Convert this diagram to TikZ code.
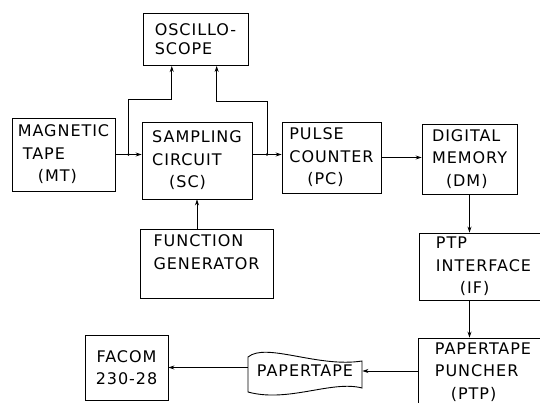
\documentclass[tikz,border=0pt]{standalone}
\usepackage{fontspec}
\setmainfont{DejaVu Sans}[LetterSpace=6.0]
\usepackage{tikz}
\usetikzlibrary{arrows.meta}
\usetikzlibrary{calc}
\tikzset{
  blk/.style={draw, line width=0.9pt, inner sep=0pt, align=left,
              font=\fontsize{16}{22.5}\selectfont},
  arr/.style={-{Stealth[length=6pt,width=4pt]}, line width=0.8pt},
}

\begin{document}
\begin{tikzpicture}[x=1pt,y=-1pt]
\useasboundingbox (0,0) rectangle (540,403);
\clip (0,0) rectangle (540,403);

% blocks
\node[blk, minimum width=105pt, minimum height=52pt,
      font=\fontsize{16}{19}\selectfont] (osc) at (195.5,39.5) {OSCILLO-\\SCOPE};
\node[blk, minimum width=103pt, minimum height=73pt] (mt) at (63.5,154.5)
      {MAGNETIC\\\hspace{5pt}TAPE\\\hspace{20pt}(MT)};
\node[blk, minimum width=110pt, minimum height=77pt] (sc) at (197,160.5)
      {SAMPLING\\CIRCUIT\\\hspace{17pt}(SC)};
\node[blk, minimum width=99pt, minimum height=71pt] (pc) at (331.5,157.5)
      {PULSE\\COUNTER\\\hspace{18pt}(PC)};
\node[blk, minimum width=95pt, minimum height=70pt] (dm) at (469.5,159)
      {DIGITAL\\MEMORY\\\hspace{14pt}(DM)};
\node[blk, minimum width=133pt, minimum height=69pt] (fg) at (206.5,263.5)
      {FUNCTION\\GENERATOR\\\mbox{}};
\node[blk, minimum width=129pt, minimum height=67pt] (if) at (483.5,266.5)
      {PTP\\INTERFACE\\\hspace{24pt}(IF)};
\node[blk, minimum width=130pt, minimum height=68pt] (ptp) at (483,372)
      {PAPERTAPE\\PUNCHER\\\hspace{16pt}(PTP)};
\node[blk, minimum width=83pt, minimum height=65pt, align=center] (facom) at (126.5,367.5)
      {FACOM\\230-28};

% paper tape
\node[blk, draw=none, minimum width=114pt, minimum height=30pt] (ptape) at (305,371) {PAPERTAPE};
\draw[line width=0.9pt]
      (248,357) .. controls (266,342) and (318,368) .. (362,361) --
      (362,388) .. controls (332,380) and (288,403) .. (248,392) -- cycle;

% branch points and oscilloscope inputs
\coordinate (j1) at ($(mt.east)!0.5!(mt.east -| sc.west)$);
\coordinate (j2) at ($(sc.east |- j1)!0.5!(pc.west |- j1)$);
\coordinate (o1) at ($(osc.south west)!0.276!(osc.south east)$);
\coordinate (o2) at ($(osc.south west)!0.70!(osc.south east)$);

\draw[arr] (mt.east |- j1) -- (sc.west |- j1);
\draw[arr] (sc.east |- j1) -- (pc.west |- j1);
\draw[arr] (pc.east) -- (pc.east -| dm.west);
\draw[arr] (j1) |- ($(o1)+(0,33)$) -- (o1);
\draw[arr] (j2) |- ($(o2)+(0,35)$) -- (o2);
\fill (j1) circle (1.3pt);
\fill (j2) circle (1.3pt);

\draw[arr] (sc.south |- fg.north) -- (sc.south);
\draw[arr] (dm.south) -- (dm.south |- if.north);
\draw[arr] (if.south -| dm.south) -- (ptp.north -| dm.south);
\draw[arr] (ptp.west |- ptape) -- (ptape.east);
\draw[arr] (ptape.west |- facom) -- (facom.east);
\end{tikzpicture}
\end{document}
